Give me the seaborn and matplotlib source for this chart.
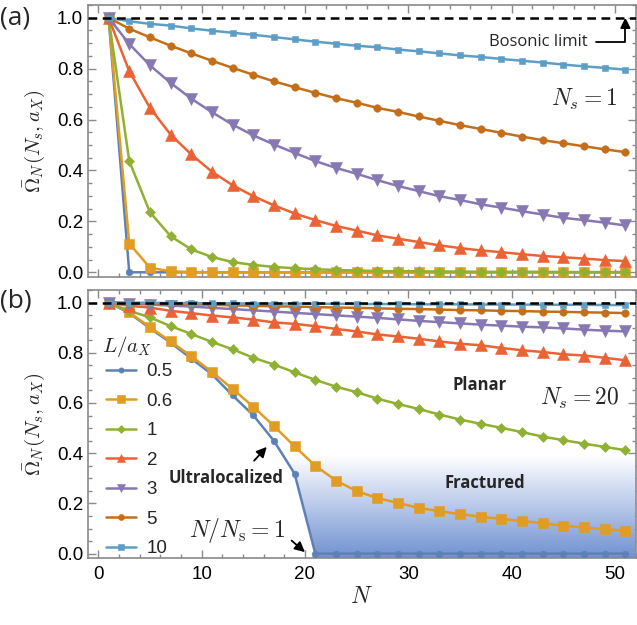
import matplotlib
matplotlib.use("Agg")
import matplotlib.pyplot as plt
import numpy as np
import seaborn as sns
from matplotlib.colors import LinearSegmentedColormap
from matplotlib.patches import Polygon
from matplotlib.ticker import MultipleLocator

# ---- data -------------------------------------------------------------
N = list(range(1, 52, 2))
L_labels = ["0.5", "0.6", "1", "2", "3", "5", "10"]

# (a) N_s = 1
a_05 = [1.0, 0.0, 0.0, 0.0, 0.0, 0.0, 0.0, 0.0, 0.0, 0.0, 0.0, 0.0, 0.0,
        0.0, 0.0, 0.0, 0.0, 0.0, 0.0, 0.0, 0.0, 0.0, 0.0, 0.0, 0.0, 0.0]
a_06 = [1.0, 0.113, 0.018, 0.004, 0.001, 0.0, 0.0, 0.0, 0.0, 0.0, 0.0, 0.0, 0.0,
        0.0, 0.0, 0.0, 0.0, 0.0, 0.0, 0.0, 0.0, 0.0, 0.0, 0.0, 0.0, 0.0]
a_1 = [1.0, 0.437, 0.236, 0.142, 0.090, 0.060, 0.040, 0.029, 0.021, 0.016, 0.012,
       0.009, 0.007, 0.005, 0.004, 0.004, 0.003, 0.003, 0.002, 0.002, 0.002, 0.002,
       0.001, 0.001, 0.001, 0.001]
a_2 = [1.0, 0.790, 0.646, 0.541, 0.463, 0.395, 0.342, 0.299, 0.263, 0.231, 0.205,
       0.182, 0.164, 0.145, 0.132, 0.119, 0.106, 0.095, 0.086, 0.079, 0.071, 0.064,
       0.059, 0.054, 0.048, 0.044]
a_3 = [1.0, 0.897, 0.813, 0.744, 0.682, 0.629, 0.580, 0.538, 0.502, 0.469, 0.437,
       0.410, 0.387, 0.362, 0.339, 0.319, 0.299, 0.284, 0.267, 0.254, 0.240, 0.227,
       0.214, 0.205, 0.195, 0.184]
a_5 = [1.0, 0.957, 0.923, 0.890, 0.860, 0.831, 0.803, 0.776, 0.750, 0.727, 0.705,
       0.684, 0.666, 0.646, 0.630, 0.612, 0.595, 0.578, 0.563, 0.548, 0.533, 0.519,
       0.507, 0.495, 0.483, 0.472]
a_10 = [1.0, 0.986, 0.976, 0.969, 0.958, 0.949, 0.941, 0.933, 0.924, 0.915, 0.906,
        0.898, 0.890, 0.884, 0.875, 0.868, 0.860, 0.852, 0.846, 0.838, 0.831, 0.824,
        0.816, 0.809, 0.803, 0.796]

# (b) N_s = 20
b_05 = [1.0, 0.958, 0.898, 0.840, 0.777, 0.714, 0.630, 0.551, 0.449, 0.318, 0.0,
        0.0, 0.0, 0.0, 0.0, 0.0, 0.0, 0.0, 0.0, 0.0, 0.0, 0.0, 0.0, 0.0, 0.0, 0.0]
b_06 = [1.0, 0.961, 0.902, 0.845, 0.786, 0.724, 0.656, 0.585, 0.508, 0.427, 0.350,
        0.291, 0.249, 0.221, 0.202, 0.182, 0.169, 0.157, 0.147, 0.138, 0.130, 0.121,
        0.111, 0.104, 0.097, 0.091]
b_1 = [1.0, 0.967, 0.941, 0.906, 0.875, 0.843, 0.814, 0.780, 0.753, 0.722, 0.692,
       0.665, 0.643, 0.617, 0.596, 0.576, 0.554, 0.534, 0.517, 0.501, 0.484, 0.466,
       0.452, 0.438, 0.425, 0.412]
b_2 = [1.0, 0.987, 0.980, 0.967, 0.958, 0.948, 0.941, 0.932, 0.921, 0.915, 0.906,
       0.895, 0.885, 0.873, 0.865, 0.856, 0.845, 0.836, 0.830, 0.819, 0.810, 0.803,
       0.794, 0.789, 0.780, 0.770]
b_3 = [1.0, 0.996, 0.992, 0.988, 0.984, 0.979, 0.974, 0.969, 0.964, 0.959, 0.954,
       0.949, 0.944, 0.939, 0.933, 0.927, 0.922, 0.917, 0.912, 0.908, 0.904, 0.901,
       0.897, 0.892, 0.888, 0.885]
b_5 = [1.0, 0.999, 0.997, 0.995, 0.993, 0.991, 0.989, 0.987, 0.985, 0.984, 0.982,
       0.980, 0.979, 0.977, 0.975, 0.974, 0.972, 0.970, 0.969, 0.967, 0.966, 0.964,
       0.963, 0.961, 0.960, 0.958]
b_10 = [1.0, 0.999, 0.999, 0.998, 0.998, 0.997, 0.997, 0.996, 0.996, 0.996, 0.995,
        0.995, 0.994, 0.994, 0.994, 0.993, 0.993, 0.993, 0.992, 0.992, 0.992, 0.991,
        0.991, 0.991, 0.990, 0.990]

panel_a = [a_05, a_06, a_1, a_2, a_3, a_5, a_10]
panel_b = [b_05, b_06, b_1, b_2, b_3, b_5, b_10]

# ---- styles -----------------------------------------------------------
colors = ["#5E81B5", "#E19C24", "#8FB032", "#EB6235", "#8778B3", "#C56E1A", "#5D9EC7"]
markers = ["o", "s", "D", "^", "v", "o", "s"]
msizes = [4.8, 7.0, 5.5, 8.0, 8.0, 5.4, 5.0]

sns.set_theme(style="ticks")
plt.rcParams["font.family"] = ["Liberation Sans", "DejaVu Sans"]
plt.rcParams["mathtext.fontset"] = "cm"
label_font = ["Open Sans", "DejaVu Sans"]

frame = "#8a8a8a"
fig = plt.figure(figsize=(6.37, 6.25), dpi=100)
ax1 = fig.add_axes([0.138, 0.557, 0.860, 0.435])
ax2 = fig.add_axes([0.138, 0.107, 0.860, 0.429])


def style_axes(ax, show_x):
    ax.set_xlim(-1, 52)
    ax.set_ylim(-0.018, 1.05)
    ax.xaxis.set_major_locator(MultipleLocator(10))
    ax.xaxis.set_minor_locator(MultipleLocator(2))
    ax.yaxis.set_major_locator(MultipleLocator(0.2))
    ax.yaxis.set_minor_locator(MultipleLocator(0.05))
    ax.yaxis.set_major_formatter(lambda v, p: f"{v:.1f}")
    ax.tick_params(which="both", direction="in", top=True, right=True,
                   color=frame, width=1.0, labelsize=13.5, labelcolor="black")
    ax.tick_params(which="major", length=6)
    ax.tick_params(which="minor", length=3)
    ax.tick_params(axis="x", labelbottom=show_x, pad=6)
    for s in ax.spines.values():
        s.set_color(frame)
        s.set_linewidth(1.2)
    ax.set_ylabel(r"$\bar{\Omega}_N(N_s, a_X)$", fontsize=15, labelpad=7)


for ax, series in [(ax1, panel_a), (ax2, panel_b)]:
    for vals, lab, c, m, ms in zip(series, L_labels, colors, markers, msizes):
        sns.lineplot(x=N, y=vals, ax=ax, color=c, marker=m, markersize=ms,
                     markeredgewidth=0.4, markeredgecolor=c, linewidth=1.8,
                     label=lab, legend=False, zorder=3)
    ax.axhline(1.0, color="black", lw=1.8, ls=(0, (3.5, 2.2)), zorder=5)
    style_axes(ax, ax is ax2)

ax2.set_xlabel(r"$N$", fontsize=17, labelpad=2)

# ---- gradient "fractured" region right of the 0.5 curve ---------------
top = 0.39
low = -0.018
xc = None
pts = []
for i in range(len(N) - 1):
    if xc is None and b_05[i] >= top > b_05[i + 1]:
        xc = N[i] + (top - b_05[i]) * (N[i + 1] - N[i]) / (b_05[i + 1] - b_05[i])
    if xc is not None and b_05[i + 1] < top:
        pts.append((N[i + 1], b_05[i + 1]))
        if b_05[i + 1] == 0:
            break
verts = [(xc, top)] + pts + [(pts[-1][0], low), (52, low), (52, top)]
clip = Polygon(verts, closed=True, facecolor="none", edgecolor="none",
               transform=ax2.transData)
ax2.add_patch(clip)
cmap = LinearSegmentedColormap.from_list("fr", ["#7091d0", "#b7c8ea", "#ffffff"])
grad = np.linspace(0, 1, 256).reshape(-1, 1)
im = ax2.imshow(grad, cmap=cmap, origin="lower", aspect="auto",
                extent=[xc, 52, low, top], zorder=1)
im.set_clip_path(clip)
ax2.set_xlim(-1, 52)
ax2.set_ylim(-0.018, 1.05)

# ---- legend -----------------------------------------------------------
leg = ax2.legend(loc="upper left", bbox_to_anchor=(0.02, 0.755), frameon=False,
                 fontsize=13.5, handlelength=1.6, handletextpad=0.55,
                 labelspacing=0.66, borderaxespad=0, markerscale=0.8)
ax2.text(0.072, 0.788, r"$L/a_X$", fontsize=15, ha="center", va="center",
         transform=ax2.transAxes)

# ---- annotations ------------------------------------------------------
arrow = dict(arrowstyle="-|>", color="black", lw=1.3, mutation_scale=15,
             shrinkA=2, shrinkB=0)
ax1.annotate("Bosonic limit", xy=(51, 1.0), xytext=(47.3, 0.906),
             ha="right", va="center", fontsize=12, family=label_font,
             arrowprops=dict(arrow, connectionstyle="angle,angleA=0,angleB=90,rad=0",
                             shrinkA=4))
ax1.text(47.0, 0.678, r"$N_s = 1$", fontsize=17, ha="center", va="center")

ax2.text(46.6, 0.618, r"$N_s = 20$", fontsize=17, ha="center", va="center")
bold = dict(fontsize=12, fontweight="bold", family=label_font,
            ha="center", va="center")
ax2.text(36.9, 0.673, "Planar", **bold)
ax2.text(37.4, 0.28, "Fractured", zorder=6, **bold)
ax2.text(12.4, 0.30, "Ultralocalized", **bold)
ax2.annotate("", xy=(16.3, 0.425), xytext=(14.9, 0.362), arrowprops=arrow)
ax2.text(13.4, 0.094, r"$N/N_\mathrm{s} = 1$", fontsize=17, ha="center", va="center")
ax2.annotate("", xy=(20.0, 0.006), xytext=(18.5, 0.059), arrowprops=arrow)

fig.text(0.0, 0.971, "(a)", fontsize=19, va="center", family=label_font)
fig.text(0.0, 0.519, "(b)", fontsize=19, va="center", family=label_font)

fig.savefig("out.png", dpi=100)
